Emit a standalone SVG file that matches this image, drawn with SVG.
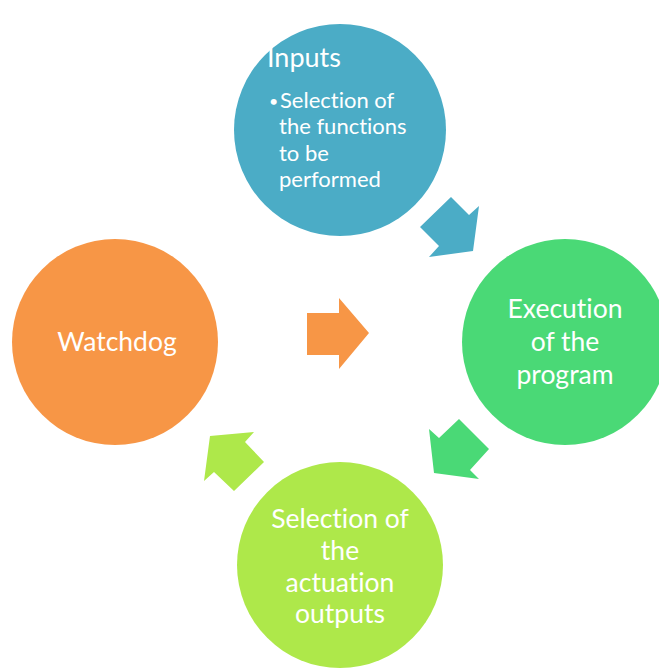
<svg xmlns="http://www.w3.org/2000/svg" width="659" height="668" viewBox="0 0 659 668">
  <style>
    .lbl { font-family: Lato, "Open Sans", "Liberation Sans", sans-serif; fill: #ffffff; font-size: 26.5px; font-variant-ligatures: none; }
    .c { text-anchor: middle; }
    .sub { font-size: 22px; }
  </style>
  <rect width="659" height="668" fill="#ffffff"/>

  <g id="connectors">
    <polygon id="arrow-inputs-exec" points="420,227 451,197 469,215 479,206 473,251 429,257 439,246" fill="#4BACC6"/>
    <polygon id="arrow-exec-select" points="429,429 439,438 459,419 489,449 470,470 479,479 434,473" fill="#4AD976"/>
    <polygon id="arrow-select-watchdog" points="210,436 254,432 245,442 264,462 234,491 214,472 204,481" fill="#AEE84A"/>
    <polygon id="arrow-watchdog" points="307,313 339,313 339,298 369,333 339,369 339,355 307,355" fill="#F79646"/>
  </g>

  <g id="inputs">
    <circle cx="340" cy="130" r="106" fill="#4BACC6"/>
    <text class="lbl" x="267" y="67" style="font-size:27px">Inputs</text>
    <text class="lbl" x="269" y="107" style="font-size:16px">•</text>
    <text class="lbl sub" x="280" y="108">Selection of</text>
    <text class="lbl sub" x="279" y="134">the functions</text>
    <text class="lbl sub" x="279" y="161">to be</text>
    <text class="lbl sub" x="279" y="187">performed</text>
  </g>

  <g id="execution">
    <circle cx="565" cy="342" r="103" fill="#4AD976"/>
    <text class="lbl c" x="565" y="318">Execution</text>
    <text class="lbl c" x="565" y="351">of the</text>
    <text class="lbl c" x="565" y="384">program</text>
  </g>

  <g id="selection">
    <circle cx="340" cy="565" r="103" fill="#AEE84A"/>
    <text class="lbl c" x="340" y="528">Selection of</text>
    <text class="lbl c" x="340" y="560">the</text>
    <text class="lbl c" x="340" y="592">actuation</text>
    <text class="lbl c" x="340" y="623">outputs</text>
  </g>

  <g id="watchdog">
    <circle cx="115" cy="342" r="103" fill="#F79646"/>
    <text class="lbl c" x="117" y="351">Watchdog</text>
  </g>
</svg>
